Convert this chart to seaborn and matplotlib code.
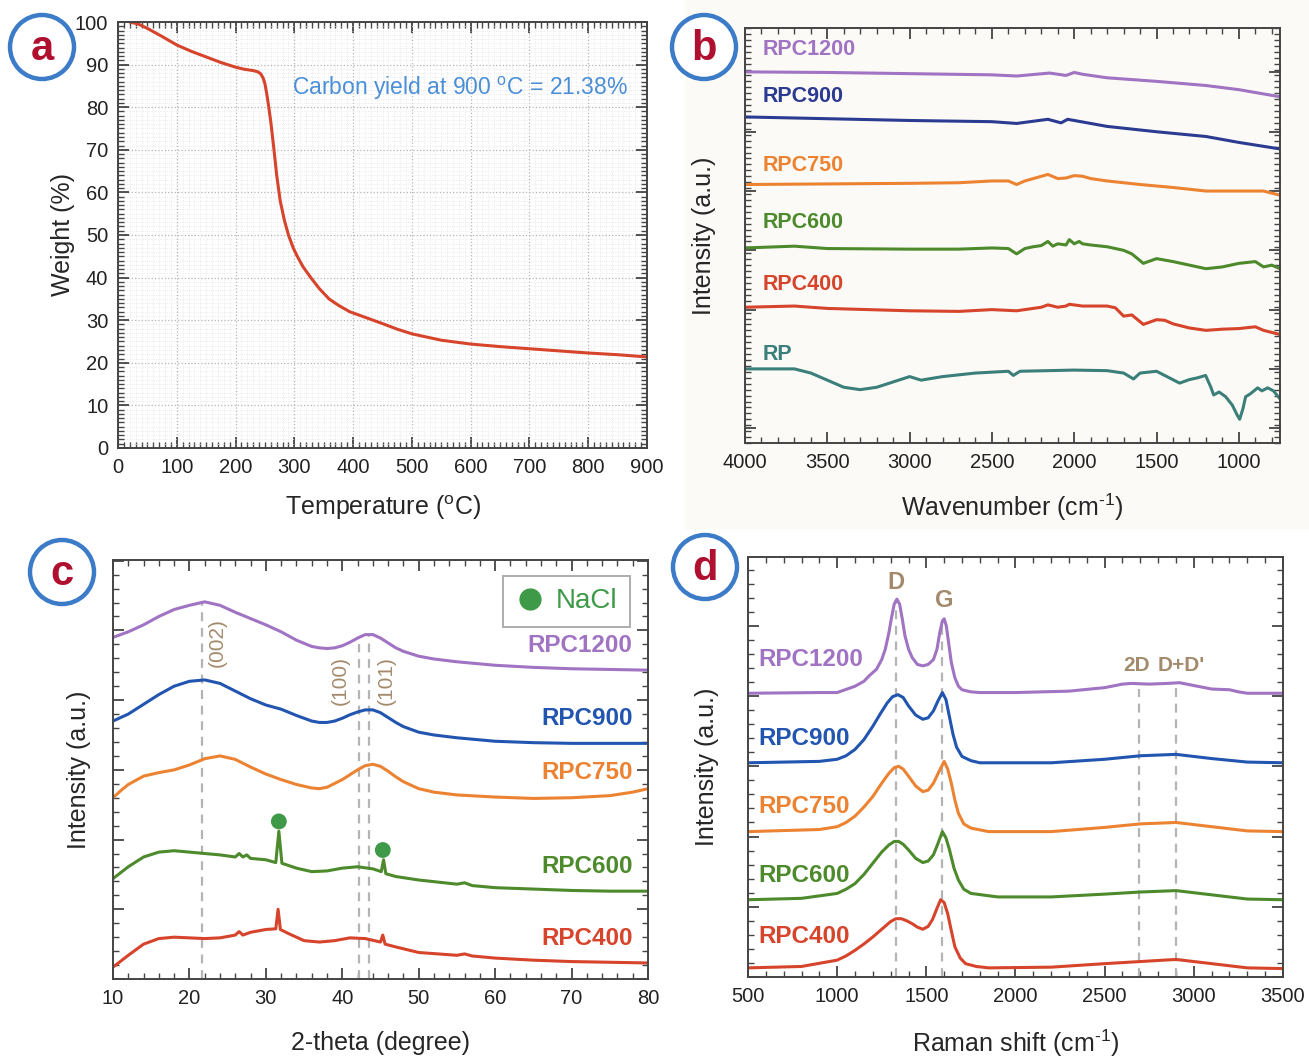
import matplotlib
matplotlib.use('Agg')
import matplotlib.pyplot as plt
from matplotlib.ticker import MultipleLocator, FixedLocator, NullFormatter
from matplotlib.patches import Ellipse, Rectangle
from matplotlib.lines import Line2D
import seaborn as sns

# ---- (a) TGA ----
tga_temp = [20, 35, 50, 75, 100, 125, 150, 175, 200, 215, 230, 238, 243, 247, 250, 253, 256,
            260, 265, 270, 276, 283, 290, 298, 305, 315, 328, 342, 359, 375, 394, 420, 450, 475,
            500, 550, 600, 650, 700, 750, 800, 850, 900]
tga_weight = [100, 99.5, 98.5, 96.6, 94.6, 93.1, 91.8, 90.5, 89.4, 88.9, 88.6, 88.3, 87.8, 86.8,
              85.5, 83.2, 80.5, 76.5, 70.5, 64, 58, 53.5, 50, 47, 45, 42.5, 40, 37.5, 35, 33.5,
              32, 30.7, 29.2, 27.9, 26.8, 25.3, 24.4, 23.8, 23.3, 22.8, 22.3, 21.9, 21.38]

# ---- (b) FTIR (offset intensities) ----
ftir_1200_x = [4000, 3500, 3000, 2500, 2350, 2150, 2050, 2000, 1950, 1800, 1500, 1200, 1000, 750]
ftir_1200_y = [6.26, 6.25, 6.23, 6.21, 6.19, 6.24, 6.20, 6.25, 6.22, 6.16, 6.10, 6.03, 5.96, 5.84]
ftir_900_x = [4000, 3500, 3000, 2500, 2350, 2160, 2080, 2040, 1980, 1800, 1500, 1200, 1000, 750]
ftir_900_y = [5.50, 5.47, 5.44, 5.42, 5.39, 5.46, 5.40, 5.46, 5.43, 5.34, 5.25, 5.17, 5.07, 4.96]
ftir_750_x = [4000, 3500, 3000, 2700, 2500, 2400, 2350, 2300, 2160, 2100, 2050, 2000, 1950, 1900,
              1800, 1600, 1400, 1200, 1000, 850, 750]
ftir_750_y = [4.36, 4.37, 4.38, 4.39, 4.42, 4.42, 4.36, 4.42, 4.53, 4.46, 4.47, 4.51, 4.50, 4.46,
              4.42, 4.36, 4.31, 4.25, 4.25, 4.25, 4.18]
ftir_600_x = [4000, 3700, 3500, 3000, 2700, 2500, 2400, 2350, 2300, 2250, 2200, 2160, 2130, 2100,
              2050, 2030, 2000, 1970, 1950, 1900, 1800, 1700, 1650, 1580, 1500, 1400, 1300, 1200,
              1100, 1000, 900, 850, 800, 750]
ftir_600_y = [3.29, 3.32, 3.28, 3.27, 3.27, 3.29, 3.28, 3.19, 3.28, 3.31, 3.33, 3.40, 3.32, 3.36,
              3.34, 3.43, 3.36, 3.40, 3.36, 3.34, 3.31, 3.25, 3.19, 3.03, 3.11, 3.06, 3.00, 2.94,
              2.97, 3.03, 3.06, 2.97, 3.00, 2.94]
ftir_400_x = [4000, 3700, 3500, 3000, 2700, 2500, 2350, 2200, 2160, 2100, 2050, 2030, 1950, 1800,
              1750, 1700, 1650, 1580, 1500, 1450, 1400, 1300, 1200, 1100, 1000, 900, 850, 750]
ftir_400_y = [2.29, 2.31, 2.27, 2.23, 2.22, 2.25, 2.23, 2.29, 2.33, 2.29, 2.31, 2.34, 2.31, 2.31,
              2.28, 2.14, 2.16, 2.00, 2.08, 2.07, 2.01, 1.94, 1.90, 1.92, 1.93, 1.96, 1.90, 1.83]
ftir_rp_x = [4000, 3700, 3600, 3500, 3400, 3300, 3200, 3100, 3000, 2930, 2800, 2600, 2400, 2370,
             2330, 2000, 1800, 1700, 1640, 1600, 1500, 1430, 1360, 1300, 1250, 1202, 1170, 1153,
             1120, 1080, 1040, 1010, 995, 975, 959, 930, 886, 860, 825, 790, 752]
ftir_rp_y = [1.25, 1.25, 1.18, 1.06, 0.94, 0.90, 0.94, 1.03, 1.12, 1.06, 1.12, 1.18, 1.21, 1.14,
             1.21, 1.23, 1.22, 1.18, 1.08, 1.18, 1.21, 1.11, 1.01, 1.07, 1.10, 1.14, 0.94, 0.81,
             0.86, 0.78, 0.64, 0.47, 0.40, 0.58, 0.78, 0.83, 0.93, 0.88, 0.93, 0.88, 0.75]

# ---- (c) XRD ----
xrd_hi_x = [10, 12, 14, 16, 18, 20, 22, 24, 26, 28, 30, 32, 34, 36, 37, 38, 39, 40, 41, 42,
            43, 44, 45, 46, 47, 48, 50, 52, 55, 58, 60, 65, 70, 75, 80]
xrd_1200_y = [4.90, 4.98, 5.08, 5.20, 5.30, 5.36, 5.41, 5.36, 5.26, 5.17, 5.08, 4.98, 4.86, 4.77,
              4.75, 4.74, 4.75, 4.78, 4.83, 4.89, 4.94, 4.94, 4.89, 4.82, 4.75, 4.70, 4.63, 4.59,
              4.55, 4.52, 4.50, 4.47, 4.45, 4.44, 4.43]
xrd_900_y = [3.70, 3.80, 3.94, 4.08, 4.20, 4.27, 4.29, 4.24, 4.13, 4.02, 3.93, 3.87, 3.78, 3.70,
             3.68, 3.68, 3.70, 3.74, 3.79, 3.83, 3.86, 3.86, 3.82, 3.75, 3.68, 3.62, 3.54, 3.50,
             3.46, 3.43, 3.41, 3.39, 3.38, 3.38, 3.38]
xrd_750_x = [10, 11, 12, 14, 16, 18, 20, 22, 24, 26, 28, 30, 32, 34, 36, 37, 38, 40, 42, 43,
             44, 45, 46, 47, 48, 50, 52, 55, 60, 65, 70, 75, 78, 80]
xrd_750_y = [2.60, 2.70, 2.79, 2.91, 2.96, 3.00, 3.07, 3.16, 3.20, 3.15, 3.04, 2.94, 2.86, 2.79,
             2.74, 2.73, 2.75, 2.86, 3.00, 3.06, 3.08, 3.05, 2.98, 2.90, 2.83, 2.73, 2.68, 2.64,
             2.61, 2.59, 2.60, 2.63, 2.68, 2.73]
xrd_600_x = [10, 12, 14, 16, 18, 20, 22, 24, 26, 26.5, 27, 27.5, 28, 30, 31.3, 31.7, 32.1, 34, 36,
             38, 40, 42, 44, 45.1, 45.4, 45.7, 47, 50, 55, 56, 57, 60, 65, 70, 75, 80]
xrd_600_y = [1.44, 1.61, 1.75, 1.82, 1.84, 1.82, 1.80, 1.78, 1.75, 1.80, 1.75, 1.78, 1.73, 1.71,
             1.67, 2.12, 1.66, 1.59, 1.54, 1.55, 1.59, 1.61, 1.58, 1.54, 1.71, 1.51, 1.47, 1.42,
             1.36, 1.38, 1.34, 1.31, 1.29, 1.27, 1.26, 1.26]
xrd_400_x = [10, 12, 14, 16, 18, 20, 22, 24, 26, 26.5, 27, 28, 30, 31.3, 31.6, 31.9, 33, 35, 37,
             39, 41, 43, 45, 45.3, 45.6, 47, 50, 55, 56, 57, 60, 65, 70, 75, 80]
xrd_400_y = [0.17, 0.34, 0.50, 0.58, 0.60, 0.59, 0.58, 0.59, 0.63, 0.68, 0.63, 0.67, 0.71, 0.72,
             1.00, 0.71, 0.65, 0.55, 0.53, 0.55, 0.59, 0.58, 0.53, 0.63, 0.50, 0.46, 0.38, 0.34,
             0.36, 0.33, 0.30, 0.27, 0.25, 0.24, 0.23]
nacl_x = [31.7, 45.3]
nacl_y = [2.26, 1.85]
xrd_peaks = [21.7, 42.2, 43.5]
xrd_peak_tops = [5.41, 4.81, 4.94]
xrd_peak_labels = ['(002)', '(100)', '(101)']

# ---- (d) Raman ----
ram_1200_x = [500, 900, 1000, 1100, 1150, 1180, 1220, 1250, 1270, 1290, 1305, 1320, 1335, 1350,
              1365, 1380, 1400, 1420, 1450, 1480, 1510, 1540, 1560, 1575, 1590, 1600, 1612, 1625,
              1640, 1660, 1680, 1700, 1750, 1800, 2000, 2300, 2500, 2600, 2650, 2750, 2850, 2920,
              3000, 3100, 3200, 3250, 3300, 3500]
ram_1200_y = [4.04, 4.05, 4.05, 4.14, 4.21, 4.29, 4.38, 4.52, 4.67, 4.90, 5.12, 5.31, 5.38, 5.31,
              5.10, 4.86, 4.67, 4.55, 4.45, 4.43, 4.45, 4.52, 4.67, 4.90, 5.07, 5.10, 5.00, 4.76,
              4.48, 4.26, 4.14, 4.09, 4.06, 4.05, 4.05, 4.07, 4.12, 4.17, 4.18, 4.17, 4.18, 4.19,
              4.15, 4.10, 4.09, 4.06, 4.04, 4.04]
ram_900_x = [500, 900, 1000, 1050, 1100, 1150, 1200, 1240, 1280, 1310, 1340, 1370, 1400, 1440,
             1480, 1510, 1540, 1565, 1590, 1610, 1630, 1650, 1670, 1700, 1750, 1800, 2200, 2500,
             2700, 2900, 3100, 3300, 3500]
ram_900_y = [3.05, 3.07, 3.10, 3.15, 3.24, 3.38, 3.57, 3.74, 3.90, 3.99, 4.02, 3.98, 3.86, 3.73,
             3.67, 3.69, 3.79, 3.93, 4.05, 3.95, 3.70, 3.45, 3.27, 3.14, 3.08, 3.05, 3.05, 3.10,
             3.15, 3.17, 3.11, 3.06, 3.05]
ram_750_x = [500, 900, 1000, 1050, 1100, 1150, 1200, 1250, 1290, 1320, 1345, 1370, 1400, 1440,
             1480, 1510, 1540, 1570, 1600, 1620, 1640, 1660, 1680, 1710, 1750, 1850, 2200, 2500,
             2700, 2900, 3100, 3300, 3500]
ram_750_y = [2.07, 2.10, 2.14, 2.20, 2.29, 2.42, 2.57, 2.76, 2.90, 2.98, 3.00, 2.96, 2.86, 2.72,
             2.64, 2.66, 2.76, 2.92, 3.07, 2.96, 2.76, 2.52, 2.33, 2.18, 2.12, 2.07, 2.07, 2.13,
             2.18, 2.20, 2.14, 2.08, 2.07]
ram_600_x = [500, 800, 1000, 1050, 1100, 1150, 1200, 1250, 1290, 1320, 1345, 1370, 1400, 1440,
             1480, 1510, 1540, 1565, 1590, 1610, 1630, 1655, 1680, 1710, 1750, 1900, 2200, 2500,
             2700, 2900, 3100, 3300, 3500]
ram_600_y = [1.10, 1.12, 1.19, 1.25, 1.33, 1.46, 1.62, 1.78, 1.88, 1.93, 1.93, 1.89, 1.81, 1.69,
             1.63, 1.65, 1.74, 1.90, 2.07, 1.98, 1.81, 1.55, 1.38, 1.25, 1.19, 1.14, 1.14, 1.18,
             1.21, 1.23, 1.17, 1.11, 1.10]
ram_400_x = [500, 800, 1000, 1050, 1100, 1150, 1200, 1250, 1300, 1330, 1360, 1390, 1420, 1450,
             1480, 1510, 1535, 1560, 1580, 1600, 1620, 1640, 1660, 1690, 1720, 1780, 1850, 2200,
             2500, 2700, 2900, 3100, 3300, 3500]
ram_400_y = [0.13, 0.15, 0.24, 0.30, 0.38, 0.47, 0.57, 0.68, 0.79, 0.83, 0.83, 0.80, 0.76, 0.71,
             0.68, 0.72, 0.82, 0.98, 1.10, 1.06, 0.90, 0.66, 0.43, 0.27, 0.19, 0.15, 0.13, 0.14,
             0.19, 0.22, 0.25, 0.19, 0.13, 0.12]
ram_bands = [1331, 1590, 2691, 2902]
ram_band_tops = [5.38, 5.07, 4.10, 4.19]

PURPLE = '#a073c3'
NAVY = '#2b3b92'
BLUE = '#2255b0'
ORANGE = '#ec8332'
GREEN = '#4d8a2c'
RED = '#d6442b'
TEAL = '#3b7f7b'
TAN = '#a48a6c'

sns.set_theme(style='ticks')
plt.rcParams['font.family'] = ['Liberation Sans', 'DejaVu Sans']
plt.rcParams['mathtext.fontset'] = 'custom'
plt.rcParams['mathtext.rm'] = 'Liberation Sans'
plt.rcParams['mathtext.it'] = 'Liberation Sans:italic'

fig = plt.figure(figsize=(13.09, 10.57), dpi=100)
fig.add_artist(Rectangle((685 / 1309, 1 - 528 / 1057), 624 / 1309, 528 / 1057,
                         transform=fig.transFigure, color='#fcfaf7', zorder=0))

ax_a = fig.add_axes([118 / 1309, 1 - 448 / 1057, 529 / 1309, 426 / 1057])
ax_b = fig.add_axes([745 / 1309, 1 - 443 / 1057, 535 / 1309, 415 / 1057])
ax_c = fig.add_axes([113 / 1309, 1 - 979 / 1057, 535 / 1309, 419 / 1057])
ax_d = fig.add_axes([748 / 1309, 1 - 977 / 1057, 535 / 1309, 420 / 1057])


def style(ax):
    for s in ax.spines.values():
        s.set_color('#444444')
        s.set_linewidth(1.4)
    ax.tick_params(which='both', direction='in', top=True, right=True, color='#444444',
                   labelsize=14.5, labelcolor='#222222')
    ax.tick_params(which='major', length=8, width=1.3, pad=7)
    ax.tick_params(which='minor', length=4, width=1.0)


def draw(ax, xs, ys, color):
    sns.lineplot(x=xs, y=ys, ax=ax, color=color, lw=2.2, estimator=None, sort=False)


# (a)
draw(ax_a, tga_temp, tga_weight, RED)
ax_a.set_xlim(0, 900)
ax_a.set_ylim(0, 100)
ax_a.xaxis.set_major_locator(MultipleLocator(100))
ax_a.xaxis.set_minor_locator(MultipleLocator(10))
ax_a.yaxis.set_major_locator(MultipleLocator(10))
ax_a.yaxis.set_minor_locator(MultipleLocator(1))
ax_a.grid(which='major', color='#b5b5b5', ls=':', lw=0.9)
ax_a.grid(which='minor', color='#e4e4e4', ls=':', lw=0.6)
style(ax_a)
ax_a.set_xlabel(r'Temperature ($^{\rm o}$C)', fontsize=18, labelpad=12)
ax_a.set_ylabel('Weight (%)', fontsize=18, labelpad=0)
ax_a.text(868, 84.5, r'Carbon yield at 900 $^{\rm o}$C = 21.38%', color='#4a8fd8',
          fontsize=16.5, ha='right', va='center')

# (b)
ax_b.set_facecolor('#fcfaf7')
for xs, ys, c in [(ftir_1200_x, ftir_1200_y, PURPLE), (ftir_900_x, ftir_900_y, NAVY),
                  (ftir_750_x, ftir_750_y, ORANGE), (ftir_600_x, ftir_600_y, GREEN),
                  (ftir_400_x, ftir_400_y, RED), (ftir_rp_x, ftir_rp_y, TEAL)]:
    draw(ax_b, xs, ys, c)
for name, yy, c in [('RPC1200', 6.63, PURPLE), ('RPC900', 5.84, NAVY), ('RPC750', 4.68, ORANGE),
                    ('RPC600', 3.72, GREEN), ('RPC400', 2.67, RED), ('RP', 1.50, TEAL)]:
    ax_b.text(3890, yy, name, color=c, fontsize=15.5, fontweight='bold', ha='left', va='center')
ax_b.set_xlim(4000, 750)
ax_b.set_ylim(0, 7)
ax_b.xaxis.set_major_locator(MultipleLocator(500))
ax_b.xaxis.set_minor_locator(MultipleLocator(100))
ax_b.yaxis.set_major_locator(FixedLocator([0.25, 1.25, 2.25, 3.25, 4.25, 5.25, 6.25]))
ax_b.yaxis.set_minor_locator(MultipleLocator(0.1))
ax_b.yaxis.set_major_formatter(NullFormatter())
style(ax_b)
ax_b.set_xlabel(r'Wavenumber (cm$^{\text{-1}}$)', fontsize=18, labelpad=14)
ax_b.set_ylabel('Intensity (a.u.)', fontsize=18, labelpad=14)

# (c)
for xs, ys, c in [(xrd_hi_x, xrd_1200_y, PURPLE), (xrd_hi_x, xrd_900_y, BLUE),
                  (xrd_750_x, xrd_750_y, ORANGE), (xrd_600_x, xrd_600_y, GREEN),
                  (xrd_400_x, xrd_400_y, RED)]:
    draw(ax_c, xs, ys, c)
for xp, top in zip(xrd_peaks, xrd_peak_tops):
    ax_c.vlines(xp, 0, top, colors='#b4b4b4', linestyles=(0, (4, 3)), lw=1.6, zorder=1)
ax_c.text(23.6, 4.83, xrd_peak_labels[0], rotation=90, color=TAN, fontsize=15, ha='center', va='center')
ax_c.text(39.7, 4.28, xrd_peak_labels[1], rotation=90, color=TAN, fontsize=15, ha='center', va='center')
ax_c.text(45.7, 4.28, xrd_peak_labels[2], rotation=90, color=TAN, fontsize=15, ha='center', va='center')
sns.scatterplot(x=nacl_x, y=nacl_y, ax=ax_c, color='#3e9a48', s=130, edgecolor='none', zorder=5)
for name, yy, c in [('RPC1200', 4.78, PURPLE), ('RPC900', 3.73, BLUE), ('RPC750', 2.96, ORANGE),
                    ('RPC600', 1.62, GREEN), ('RPC400', 0.58, RED)]:
    ax_c.text(78.0, yy, name, color=c, fontsize=17.5, fontweight='bold', ha='right', va='center')
handle = Line2D([], [], ls='none', marker='o', ms=15, color='#3e9a48')
leg = ax_c.legend([handle], ['NaCl'], loc='upper right', bbox_to_anchor=(0.967, 0.962),
                  fontsize=20, frameon=True, fancybox=False, edgecolor='#999999',
                  handlelength=1.0, handletextpad=0.45, borderpad=0.45, borderaxespad=0)
leg.get_frame().set_linewidth(1.4)
leg.get_texts()[0].set_color('#3e9a48')
ax_c.set_xlim(10, 80)
ax_c.set_ylim(0, 6.01)
ax_c.xaxis.set_major_locator(MultipleLocator(10))
ax_c.xaxis.set_minor_locator(MultipleLocator(2))
ax_c.yaxis.set_major_locator(MultipleLocator(1))
ax_c.yaxis.set_minor_locator(MultipleLocator(0.2))
ax_c.yaxis.set_major_formatter(NullFormatter())
style(ax_c)
ax_c.set_xlabel('2-theta (degree)', fontsize=18, labelpad=17)
ax_c.set_ylabel('Intensity (a.u.)', fontsize=18, labelpad=9)

# (d)
for xs, ys, c in [(ram_1200_x, ram_1200_y, PURPLE), (ram_900_x, ram_900_y, BLUE),
                  (ram_750_x, ram_750_y, ORANGE), (ram_600_x, ram_600_y, GREEN),
                  (ram_400_x, ram_400_y, RED)]:
    draw(ax_d, xs, ys, c)
for xb, top in zip(ram_bands, ram_band_tops):
    ax_d.vlines(xb, 0, top, colors='#b4b4b4', linestyles=(0, (4, 3)), lw=1.6, zorder=1)
ax_d.text(1331, 5.62, 'D', color=TAN, fontsize=17, fontweight='bold', ha='center', va='center')
ax_d.text(1600, 5.36, 'G', color=TAN, fontsize=17, fontweight='bold', ha='center', va='center')
ax_d.text(2680, 4.43, '2D', color=TAN, fontsize=15, fontweight='bold', ha='center', va='center')
ax_d.text(2927, 4.43, "D+D'", color=TAN, fontsize=15, fontweight='bold', ha='center', va='center')
for name, yy, c in [('RPC1200', 4.52, PURPLE), ('RPC900', 3.40, BLUE), ('RPC750', 2.43, ORANGE),
                    ('RPC600', 1.45, GREEN), ('RPC400', 0.57, RED)]:
    ax_d.text(556, yy, name, color=c, fontsize=17.5, fontweight='bold', ha='left', va='center')
ax_d.set_xlim(500, 3500)
ax_d.set_ylim(0, 5.98)
ax_d.xaxis.set_major_locator(MultipleLocator(500))
ax_d.xaxis.set_minor_locator(MultipleLocator(100))
ax_d.yaxis.set_major_locator(MultipleLocator(1))
ax_d.yaxis.set_minor_locator(MultipleLocator(0.2))
ax_d.yaxis.set_major_formatter(NullFormatter())
style(ax_d)
ax_d.set_xlabel(r'Raman shift (cm$^{\text{-1}}$)', fontsize=18, labelpad=16)
ax_d.set_ylabel('Intensity (a.u.)', fontsize=18, labelpad=14)

# panel badges
for letter, cx, cy in [('a', 42, 47), ('b', 704, 47), ('c', 62, 572), ('d', 705, 567)]:
    fx, fy = cx / 1309, 1 - cy / 1057
    fig.add_artist(Ellipse((fx, fy), 64 / 1309, 64 / 1057, transform=fig.transFigure,
                           facecolor='white', edgecolor='#3b7bc8', lw=3.2, zorder=10))
    fig.text(fx, fy - 0.002, letter, color='#b01030', fontsize=30, fontweight='bold',
             ha='center', va='center', zorder=11)

fig.savefig('out.png', dpi=100)
